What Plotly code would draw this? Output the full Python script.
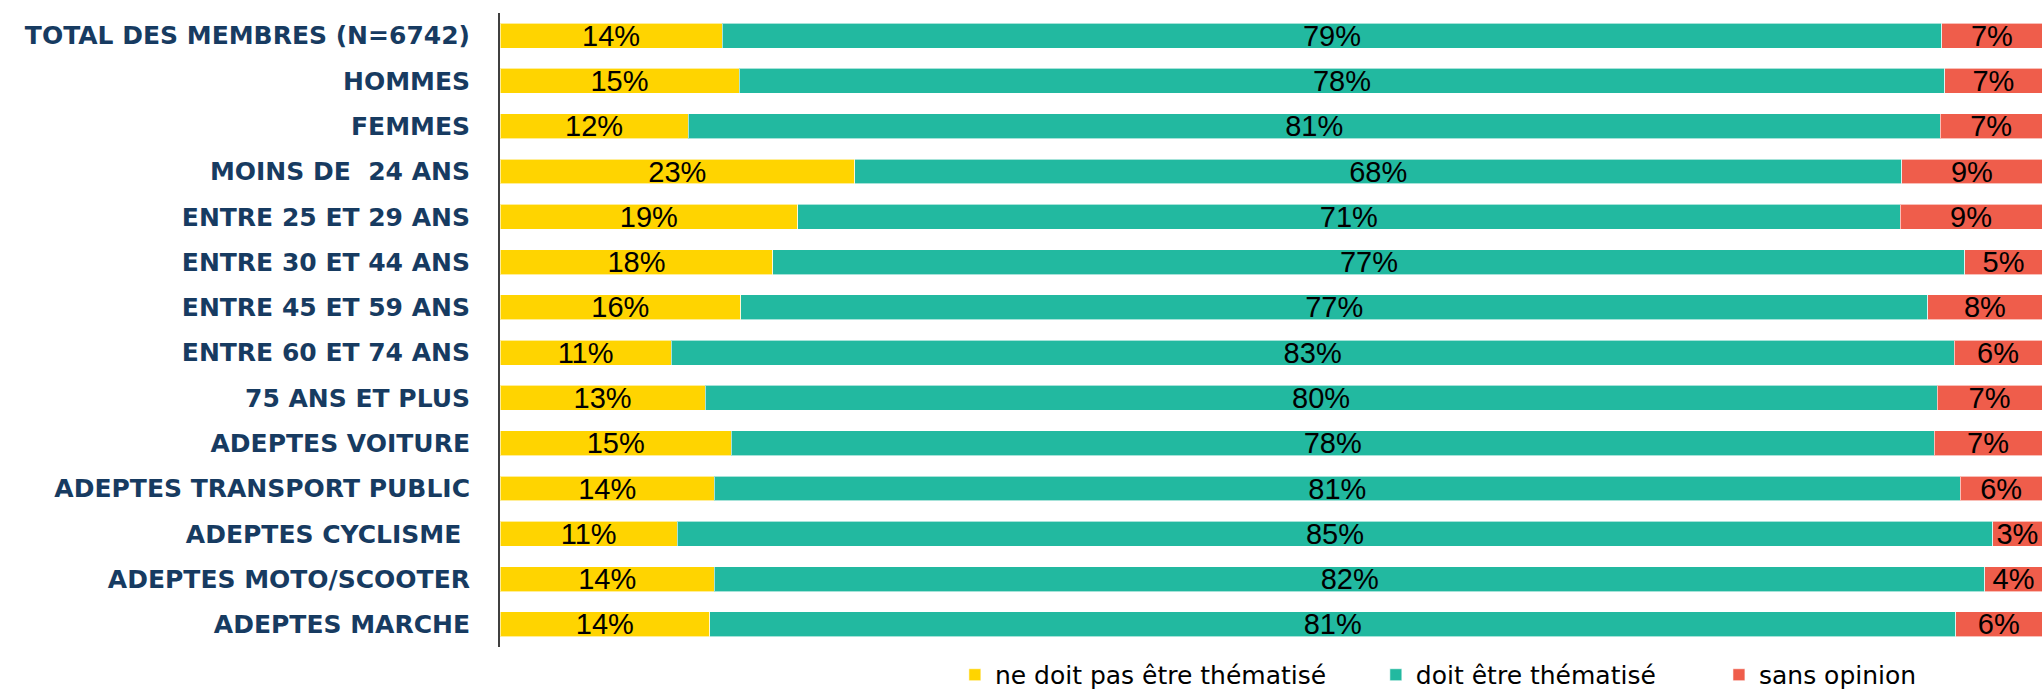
import plotly.graph_objects as go

groupes = [
    "TOTAL DES MEMBRES (N=6742)",
    "HOMMES",
    "FEMMES",
    "MOINS DE\u00a0 24 ANS",
    "ENTRE 25 ET 29 ANS",
    "ENTRE 30 ET 44 ANS",
    "ENTRE 45 ET 59 ANS",
    "ENTRE 60 ET 74 ANS",
    "75 ANS ET PLUS",
    "ADEPTES VOITURE",
    "ADEPTES TRANSPORT PUBLIC",
    "ADEPTES CYCLISME\u00a0",
    "ADEPTES MOTO/SCOOTER",
    "ADEPTES MARCHE",
]

# longueurs (en %)
ne_doit_pas = [14.4, 15.5, 12.2, 23.0, 19.3, 17.7, 15.6, 11.1, 13.3, 15.0, 13.9, 11.5, 13.9, 13.6]
doit = [79.1, 78.2, 81.2, 67.9, 71.5, 77.3, 77.0, 83.2, 79.9, 78.0, 80.8, 85.3, 82.4, 80.8]
sans_opinion = [6.5, 6.3, 6.6, 9.1, 9.2, 5.0, 7.4, 5.7, 6.8, 7.0, 5.3, 3.2, 3.7, 5.6]

# étiquettes affichées
txt_ne_doit_pas = ["14%", "15%", "12%", "23%", "19%", "18%", "16%", "11%", "13%", "15%", "14%", "11%", "14%", "14%"]
txt_doit = ["79%", "78%", "81%", "68%", "71%", "77%", "77%", "83%", "80%", "78%", "81%", "85%", "82%", "81%"]
txt_sans_opinion = ["7%", "7%", "7%", "9%", "9%", "5%", "8%", "6%", "7%", "7%", "6%", "3%", "4%", "6%"]

series = [
    ("ne doit pas être thématisé", ne_doit_pas, txt_ne_doit_pas, "#FFD400", "legend"),
    ("doit être thématisé", doit, txt_doit, "#22B9A0", "legend2"),
    ("sans opinion", sans_opinion, txt_sans_opinion, "#EF5D4B", "legend3"),
]

fig = go.Figure()

for nom, valeurs, textes, couleur, leg in series:
    fig.add_trace(go.Bar(
        y=groupes,
        x=valeurs,
        name=nom,
        legend=leg,
        orientation="h",
        text=textes,
        textposition="inside",
        insidetextanchor="middle",
        constraintext="none",
        textangle=0,
        textfont=dict(family="Liberation Sans Narrow, Liberation Sans, sans-serif", size=29, color="black"),
        marker=dict(color=couleur, line=dict(color="rgba(255,255,255,0.6)", width=1)),
        hoverinfo="skip",
    ))

# une légende par série pour garder les écarts de l'original
def legende(x):
    return dict(
        orientation="h",
        yref="container",
        x=x,
        xanchor="left",
        y=0.026,
        yanchor="middle",
        font=dict(family="DejaVu Sans, sans-serif", size=25, color="black"),
        itemclick=False,
        bgcolor="rgba(0,0,0,0)",
    )

fig.update_layout(
    barmode="stack",
    bargap=0.45,
    width=2042,
    height=693,
    plot_bgcolor="white",
    paper_bgcolor="white",
    margin=dict(l=500, r=0, t=13, b=46, autoexpand=False),
    showlegend=True,
    legend=legende(0.295),
    legend2=legende(0.568),
    legend3=legende(0.7905),
    xaxis=dict(visible=False, range=[0, 100], fixedrange=True),
    yaxis=dict(
        autorange="reversed",
        showline=True,
        linecolor="#404040",
        linewidth=2,
        ticks="",
        ticklabelstandoff=23,
        tickfont=dict(family="DejaVu Sans, sans-serif", size=25, color="#173B61", weight="bold"),
        showgrid=False,
        fixedrange=True,
    ),
)

# enlever la marge par défaut du body pour que la figure tienne dans la fenêtre
fig.write_html(
    "out.html",
    config={"displayModeBar": False},
    post_script="document.body.style.margin='0';",
)
